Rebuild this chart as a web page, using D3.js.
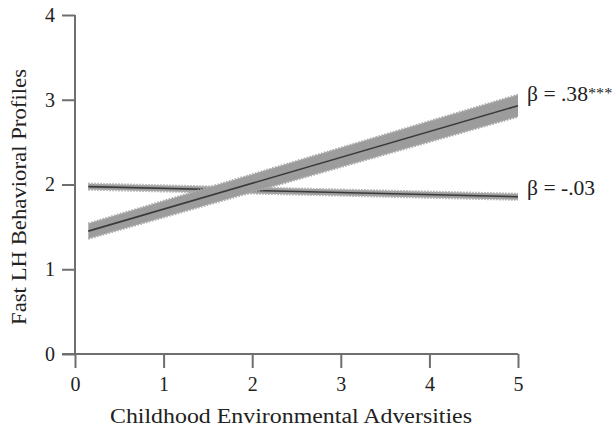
<!DOCTYPE html>
<html><head><meta charset="utf-8">
<script src="https://cdn.jsdelivr.net/npm/d3@7"></script>
<style>body{margin:0;background:#fff}svg{display:block}text{font-family:"Liberation Serif","DejaVu Serif",serif;fill:#222}</style>
</head><body><svg id="c" width="612" height="429"></svg>
<script>
const xTicks = [0,1,2,3,4,5];
const yTicks = [0,1,2,3,4];
const xEnds = [0.15, 5];
const fastFit = [1.45, 2.93];
const fastLo = [1.36, 2.80];
const fastHi = [1.54, 3.06];
const flatFit = [1.975, 1.856];
const flatLo = [1.94, 1.82];
const flatHi = [2.01, 1.89];
const labels = ["β = .38***", "β = -.03"];

const svg = d3.select("#c");
const x = d3.scaleLinear().domain([0,5]).range([75,518]);
const y = d3.scaleLinear().domain([0,4]).range([354,15]);
const axCol = "#6e6e6e";
const FS = 20;

const gx = svg.append("g").attr("transform","translate(0,354)")
  .call(d3.axisBottom(x).tickValues(xTicks).tickSize(14).tickPadding(9).tickFormat(d3.format("d")));
const gy = svg.append("g").attr("transform","translate(75,0)")
  .call(d3.axisLeft(y).tickValues(yTicks).tickSize(13).tickPadding(7).tickFormat(d3.format("d")));
[gx,gy].forEach(g=>{
  g.select(".domain").remove();
  g.selectAll("line").attr("stroke",axCol).attr("stroke-width",2);
  g.selectAll("text").attr("font-size",FS).attr("fill","#222").style("font-family",'"Liberation Serif",serif');
});
svg.append("line").attr("x1",62).attr("x2",x(5)).attr("y1",354).attr("y2",354).attr("stroke",axCol).attr("stroke-width",2);
svg.append("line").attr("x1",75).attr("x2",75).attr("y1",y(4)).attr("y2",354).attr("stroke",axCol).attr("stroke-width",2);

function band(lo, hi, fit){
  const pts = xEnds.map((d,i)=>({x:d, lo:lo[i], hi:hi[i], f:fit[i]}));
  svg.append("path").datum(pts)
    .attr("d", d3.area().x(d=>x(d.x)).y0(d=>y(d.lo)).y1(d=>y(d.hi)))
    .attr("fill","#9c9c9c");
  ["lo","hi"].forEach(k=>{
    svg.append("path").datum(pts)
      .attr("d", d3.line().x(d=>x(d.x)).y(d=>y(d[k])))
      .attr("fill","none").attr("stroke","#ababab").attr("stroke-width",2.2).attr("stroke-dasharray","1.5,1.5");
  });
  svg.append("path").datum(pts)
    .attr("d", d3.line().x(d=>x(d.x)).y(d=>y(d.f)))
    .attr("fill","none").attr("stroke","#3a3a3a").attr("stroke-width",1.6);
}
band(flatLo, flatHi, flatFit);
band(fastLo, fastHi, fastFit);

function betaLabel(str, yy){
  const m = str.match(/^(.*?)(\**)$/);
  const t = svg.append("text").attr("transform",`translate(527,${yy}) scale(1.08,1)`).attr("font-size",FS);
  t.append("tspan").text(m[1]);
  if (m[2]) t.append("tspan").attr("font-size",15).attr("dy",-3).text(m[2]);
}
betaLabel(labels[0], 101);
betaLabel(labels[1], 195);

svg.append("text").attr("x",291).attr("y",423).attr("text-anchor","middle").attr("font-size",FS)
  .attr("textLength",362).attr("lengthAdjust","spacingAndGlyphs").text("Childhood Environmental Adversities");
svg.append("text").attr("transform","translate(26,197) rotate(-90)").attr("text-anchor","middle").attr("font-size",FS)
  .attr("textLength",256).attr("lengthAdjust","spacingAndGlyphs").text("Fast LH Behavioral Profiles");
</script></body></html>
